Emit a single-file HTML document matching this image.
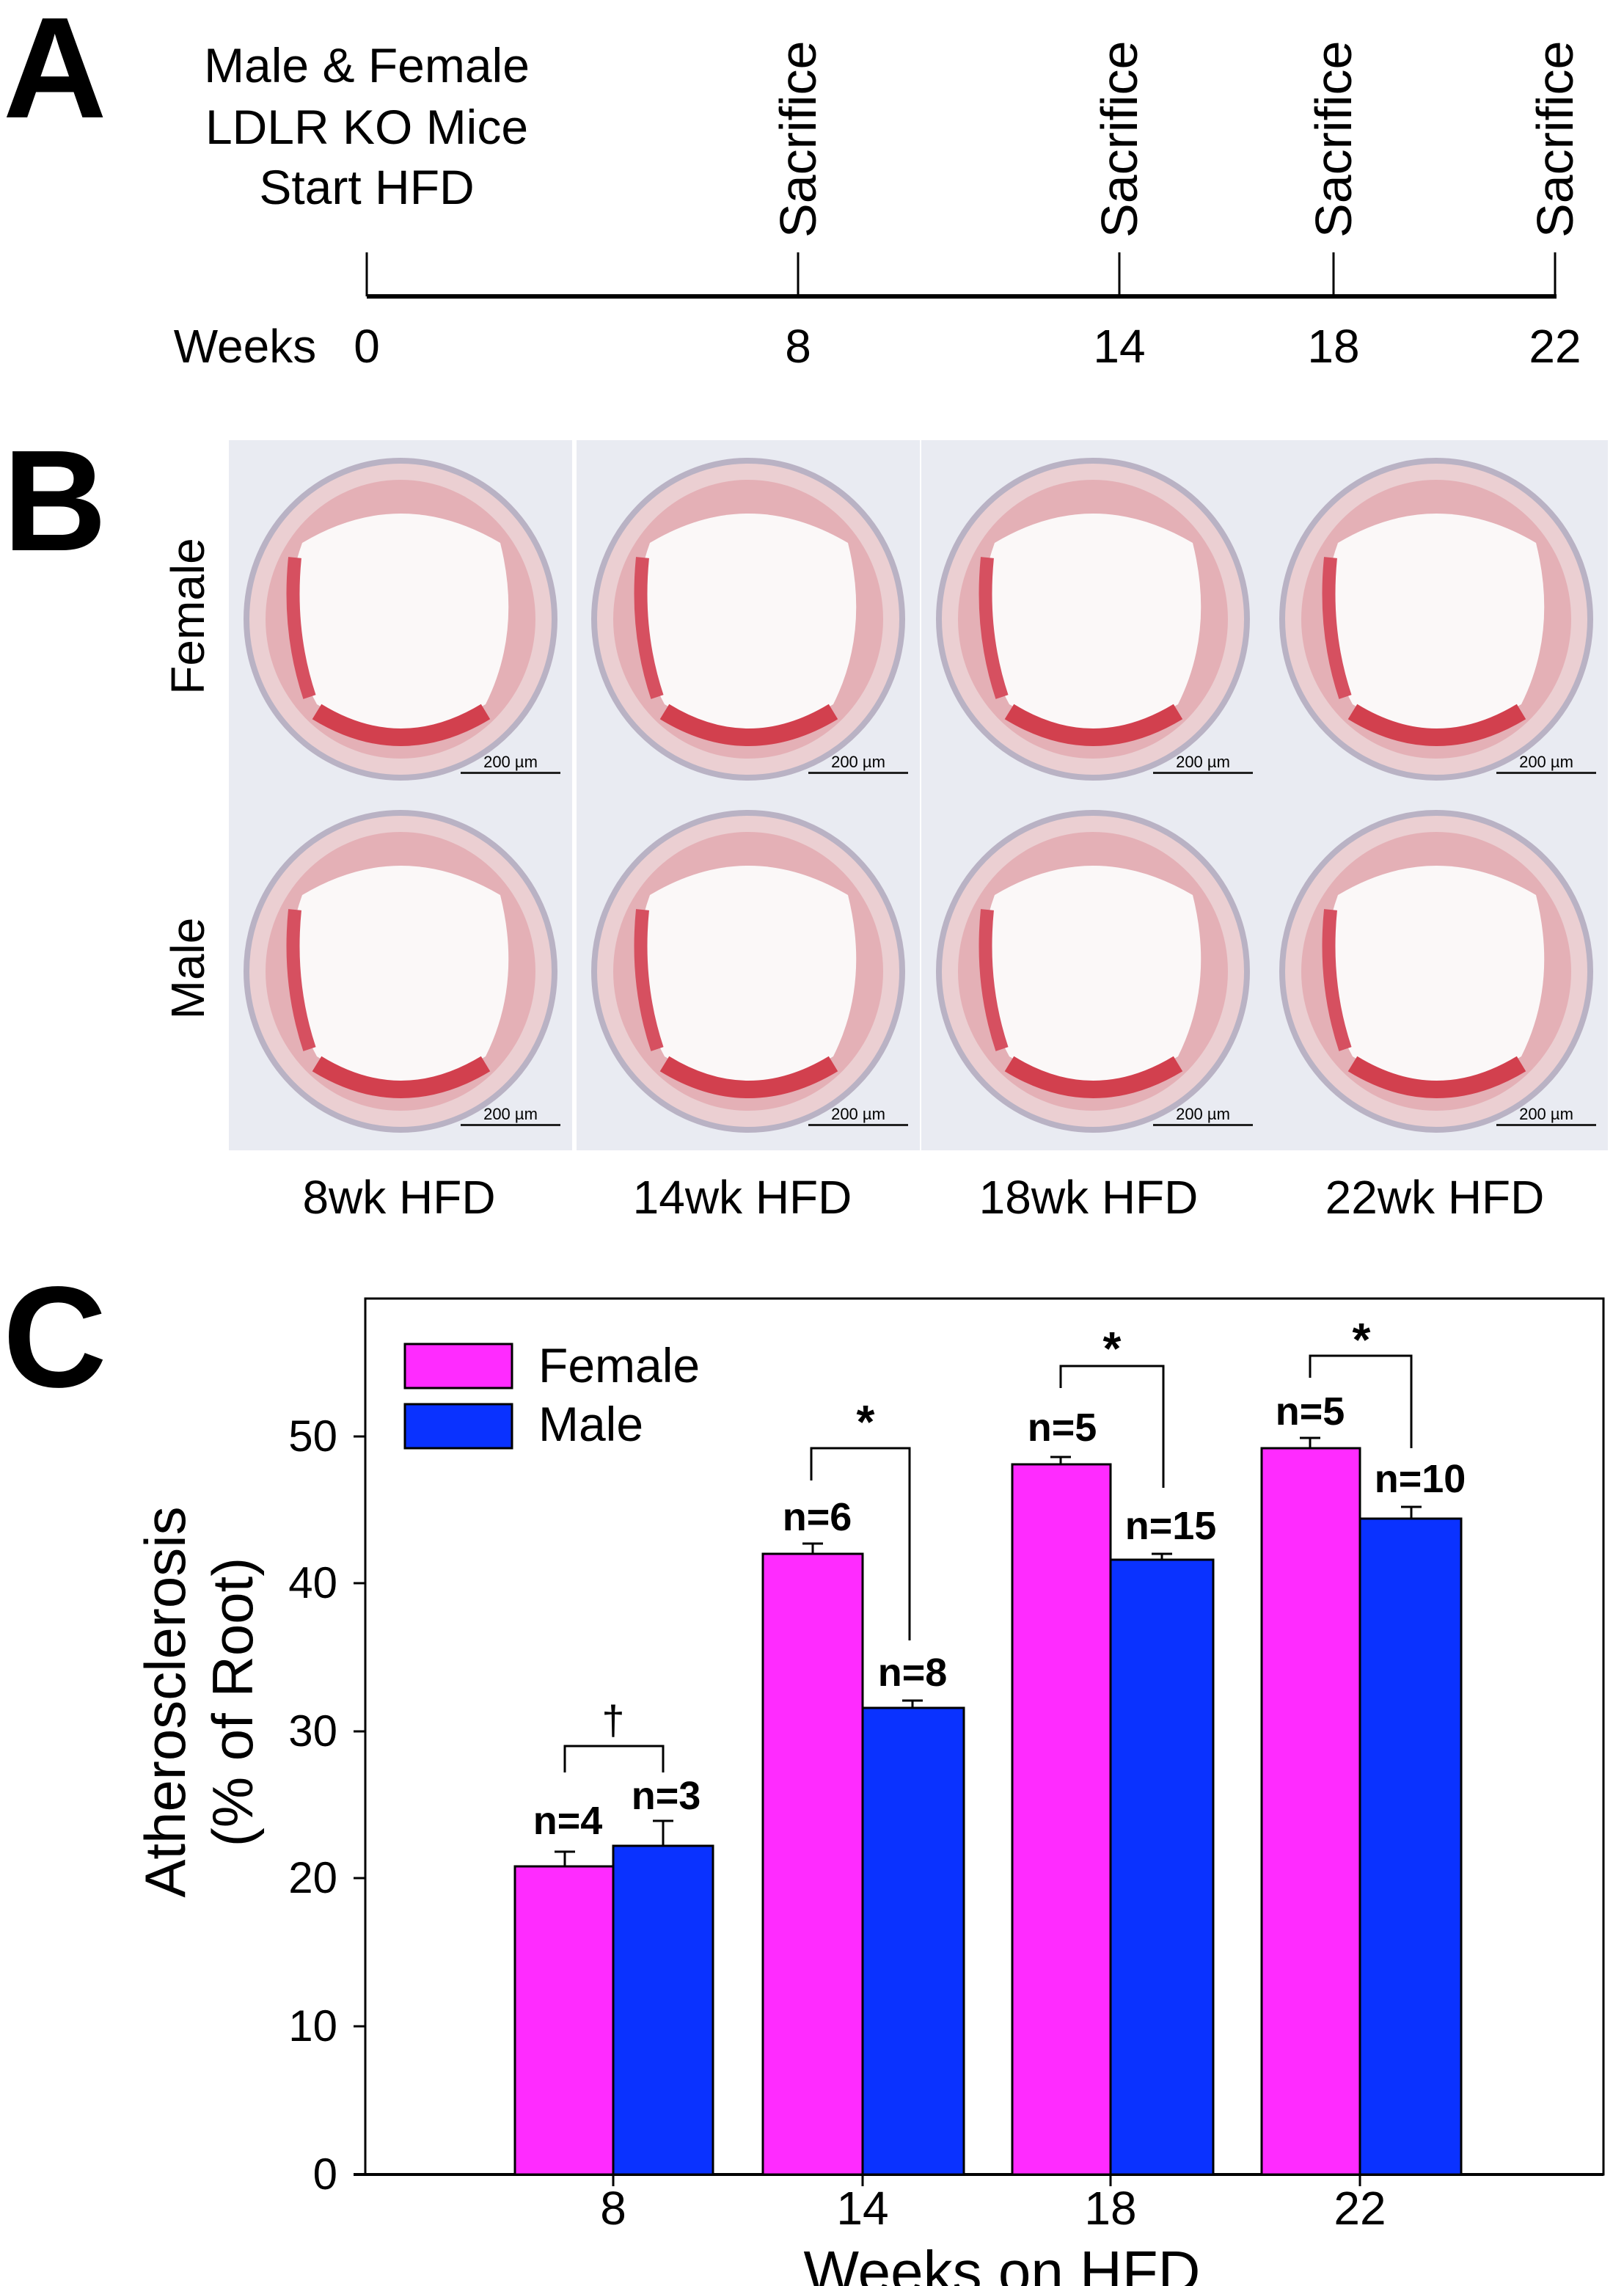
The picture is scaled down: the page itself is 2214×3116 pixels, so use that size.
<!DOCTYPE html>
<html><head><meta charset="utf-8"><style>
html,body{margin:0;padding:0;background:#fff;}
svg{display:block;}
text{font-family:"Liberation Sans",Arial,sans-serif;}
</style></head><body>
<svg width="2214" height="3116" viewBox="0 0 1107 1558" xmlns="http://www.w3.org/2000/svg">
<rect width="1107" height="1558" fill="#fff"/>
<!-- Panel A -->
<text x="2" y="80" font-size="98" font-weight="bold">A</text>
<g font-size="33" text-anchor="middle">
<text x="250" y="56">Male &amp; Female</text>
<text x="250" y="98">LDLR KO Mice</text>
<text x="250" y="139">Start HFD</text>
</g>
<line x1="250" y1="202" x2="1061" y2="202" stroke="#000" stroke-width="3"/>
<g stroke="#000" stroke-width="1.5">
<line x1="250" y1="172" x2="250" y2="202"/><line x1="544" y1="172" x2="544" y2="202"/>
<line x1="763" y1="172" x2="763" y2="202"/><line x1="909" y1="172" x2="909" y2="202"/>
<line x1="1060" y1="172" x2="1060" y2="202"/></g>
<g font-size="35">
<text transform="translate(556,162) rotate(-90)">Sacrifice</text>
<text transform="translate(775,162) rotate(-90)">Sacrifice</text>
<text transform="translate(921,162) rotate(-90)">Sacrifice</text>
<text transform="translate(1072,162) rotate(-90)">Sacrifice</text>
</g>
<g font-size="32" text-anchor="middle">
<text x="167" y="247">Weeks</text><text x="250" y="247">0</text><text x="544" y="247">8</text>
<text x="763" y="247">14</text><text x="909" y="247">18</text><text x="1060" y="247">22</text>
</g>
<!-- Panel B -->
<text x="2" y="375" font-size="98" font-weight="bold">B</text>
<text transform="translate(139,420) rotate(-90)" font-size="32" text-anchor="middle">Female</text>
<text transform="translate(139,660) rotate(-90)" font-size="32" text-anchor="middle">Male</text>
<defs>
<g id="histo">
<rect x="0" y="0" width="234" height="244" fill="#e9ebf2"/>
<ellipse cx="117" cy="122" rx="105" ry="108" fill="#ebcfd2" stroke="#b9b2c4" stroke-width="4"/>
<ellipse cx="117" cy="122" rx="92" ry="95" fill="#e4b0b6"/>
<path d="M50 70 Q117 30 185 70 Q200 130 175 180 Q117 215 60 180 Q30 125 50 70Z" fill="#fbf8f8"/>
<path d="M60 185 Q117 220 175 185" stroke="#d2404e" stroke-width="12" fill="none"/>
<path d="M45 80 Q40 130 55 175" stroke="#d65060" stroke-width="9" fill="none"/>
<rect x="158" y="226" width="68" height="1.5" fill="#222"/>
<text x="192" y="223" font-size="11" text-anchor="middle">200 µm</text>
</g>
</defs>
<use href="#histo" x="156" y="300"/><use href="#histo" x="393" y="300"/>
<use href="#histo" x="628" y="300"/><use href="#histo" x="862" y="300"/>
<use href="#histo" x="156" y="540"/><use href="#histo" x="393" y="540"/>
<use href="#histo" x="628" y="540"/><use href="#histo" x="862" y="540"/>
<g font-size="32" text-anchor="middle">
<text x="272" y="827">8wk HFD</text><text x="506" y="827">14wk HFD</text>
<text x="742" y="827">18wk HFD</text><text x="978" y="827">22wk HFD</text>
</g>
<!-- Panel C -->
<text x="2" y="945" font-size="98" font-weight="bold">C</text>
<rect x="249" y="885" width="844" height="597" fill="none" stroke="#000" stroke-width="1.5"/>
<line x1="241" y1="1482" x2="1093" y2="1482" stroke="#000" stroke-width="2"/>
<g stroke="#000" stroke-width="1.5">
<line x1="241" y1="1482" x2="249" y2="1482"/><line x1="241" y1="1381" x2="249" y2="1381"/>
<line x1="241" y1="1280" x2="249" y2="1280"/><line x1="241" y1="1180" x2="249" y2="1180"/>
<line x1="241" y1="1079" x2="249" y2="1079"/><line x1="241" y1="979" x2="249" y2="979"/>
<line x1="418" y1="1482" x2="418" y2="1490"/><line x1="588" y1="1482" x2="588" y2="1490"/>
<line x1="757" y1="1482" x2="757" y2="1490"/><line x1="927" y1="1482" x2="927" y2="1490"/>
</g>
<g font-size="30" text-anchor="end">
<text x="230" y="1492">0</text><text x="230" y="1391">10</text><text x="230" y="1290">20</text>
<text x="230" y="1190">30</text><text x="230" y="1089">40</text><text x="230" y="989">50</text>
</g>
<g font-size="32" text-anchor="middle">
<text x="418" y="1516">8</text><text x="588" y="1516">14</text><text x="757" y="1516">18</text><text x="927" y="1516">22</text>
<text x="683" y="1562" font-size="40">Weeks on HFD</text>
</g>
<text transform="translate(126,1160) rotate(-90)" font-size="39" text-anchor="middle">Atherosclerosis</text>
<text transform="translate(172,1160) rotate(-90)" font-size="39" text-anchor="middle">(% of Root)</text>
<g stroke="#000" stroke-width="1.5">
<rect x="351" y="1272" width="67" height="210" fill="#ff2bff"/>
<rect x="418" y="1258" width="68" height="224" fill="#0a32ff"/>
<rect x="520" y="1059" width="68" height="423" fill="#ff2bff"/>
<rect x="588" y="1164" width="69" height="318" fill="#0a32ff"/>
<rect x="690" y="998" width="67" height="484" fill="#ff2bff"/>
<rect x="757" y="1063" width="70" height="419" fill="#0a32ff"/>
<rect x="860" y="987" width="67" height="495" fill="#ff2bff"/>
<rect x="927" y="1035" width="69" height="447" fill="#0a32ff"/>
<path d="M385 1272V1262M378 1262H392 M452 1258V1241M445 1241H459 M554 1059V1052M547 1052H561 M622 1164V1159M615 1159H629 M723 998V993M716 993H730 M792 1063V1059M785 1059H799 M893 987V980M886 980H900 M962 1035V1027M955 1027H969" fill="none"/>
<path d="M385 1208V1190H452V1208 M553 1009V987H620V1118 M723 946V931H793V1014 M893 939V924H962V987" fill="none"/>
</g>
<g font-size="27" font-weight="bold" text-anchor="middle">
<text x="387" y="1250">n=4</text><text x="454" y="1233">n=3</text>
<text x="557" y="1043">n=6</text><text x="622" y="1149">n=8</text>
<text x="724" y="982">n=5</text><text x="798" y="1049">n=15</text>
<text x="893" y="971">n=5</text><text x="968" y="1017">n=10</text>
<text x="590" y="980" font-size="32">*</text><text x="758" y="930" font-size="32">*</text>
<text x="928" y="924" font-size="32">*</text>
</g>
<text x="418" y="1182" font-size="28" text-anchor="middle">†</text>
<rect x="276" y="916" width="73" height="30" fill="#ff2bff" stroke="#000" stroke-width="1.5"/>
<rect x="276" y="957" width="73" height="30" fill="#0a32ff" stroke="#000" stroke-width="1.5"/>
<text x="367" y="942" font-size="33">Female</text>
<text x="367" y="982" font-size="33">Male</text>
</svg>
</body></html>
